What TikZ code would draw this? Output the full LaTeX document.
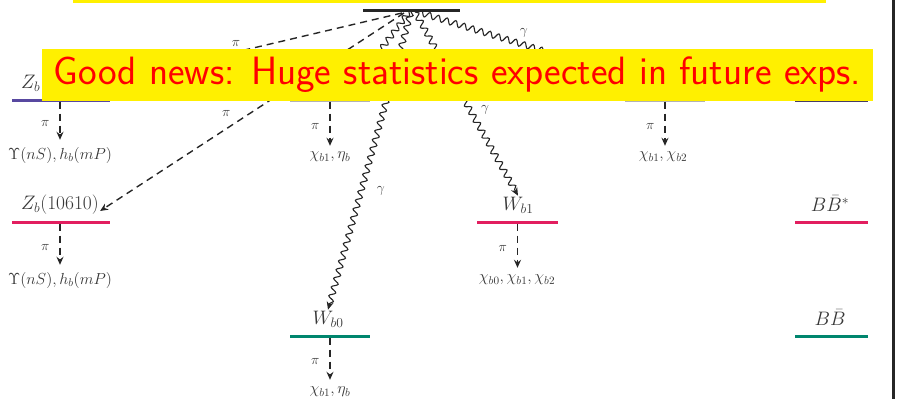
\documentclass[tikz,border=0pt]{standalone}
\usepackage{fix-cm}
\usetikzlibrary{decorations.pathmorphing,arrows.meta}
\definecolor{lvpurple}{RGB}{88,72,160}
\definecolor{lvred}{RGB}{226,30,95}
\definecolor{lvteal}{RGB}{0,134,110}
\definecolor{lvdark}{RGB}{70,60,100}
\definecolor{boxyellow}{RGB}{255,240,0}
\definecolor{txtgrey}{RGB}{55,55,55}
\definecolor{boxred}{RGB}{255,0,0}
\begin{document}
\begin{tikzpicture}[x=1pt,y=-1pt,
  lvl/.style={minimum height=3pt, inner sep=0pt, outer sep=0pt, draw=none},
  lab/.style={text=txtgrey, font=\fontsize{19.5}{20}\selectfont, inner sep=1pt},
  prod/.style={text=txtgrey, font=\fontsize{16}{17}\selectfont, inner sep=1pt},
  sm/.style={text=txtgrey, font=\fontsize{14}{15}\selectfont, inner sep=1pt},
  decayarr/.style={dash pattern=on 7pt off 5pt, line width=1.4pt, draw=black!85, -{Stealth[length=8pt,width=7pt]}},
  photon/.style={draw=black!85, line width=1.1pt, decorate,
     decoration={snake, amplitude=3pt, segment length=9pt, post length=6pt},
     -{Stealth[length=8pt,width=7pt]}},
  ]
\useasboundingbox (0,0) rectangle (899,399);

% top strip of yellow box
\fill[boxyellow] (73,0) rectangle (826,3);

% top level
\node[lvl, fill=black!85, minimum width=97pt] (top) at (411.5,10) {};
\coordinate (eA) at (402,13);
\coordinate (eB) at (404,13);
\coordinate (eC) at (409,12);
\coordinate (eD) at (411,12);
\coordinate (eE) at (415,12);
\coordinate (eF) at (418,12);

% row 1 levels
\node[lvl, fill=lvpurple, minimum width=98pt] (zbB) at (61,100) {};
\node[lab] (zbBlab) at (60,84) {$Z_b(10650)$};
\node[lvl, fill=black!30, minimum width=80pt] (midA) at (330,100) {};
\node[lvl, fill=black!30, minimum width=80pt] (rgtA) at (665,100) {};
\node[lvl, fill=lvdark, minimum width=73pt] (bsbs) at (831.5,100) {};
\coordinate (midAtop) at (352,88);
\coordinate (rgtAtop) at (664,88);

% row 2 levels
\node[lvl, fill=lvred, minimum width=98pt] (zbA) at (61,222) {};
\node[lab] (zbAlab) at (60,205) {$Z_b(10610)$};
\node[lvl, fill=lvred, minimum width=81pt] (wbone) at (517.5,222) {};
\node[lab] (wbonelab) at (518,205) {$W_{b1}$};
\node[lvl, fill=lvred, minimum width=73pt] (bbs) at (831.5,222) {};
\node[lab] (bbslab) at (830,204) {$B\bar{B}^{*}$};

% row 3 levels
\node[lvl, fill=lvteal, minimum width=80pt] (wbzero) at (330,336) {};
\node[lab] (wbzerolab) at (328,319) {$W_{b0}$};
\node[lvl, fill=lvteal, minimum width=73pt] (bb) at (831.5,336) {};
\node[lab] (bblab) at (830,318) {$B\bar{B}$};

% products
\node[prod] (pA) at (60,155) {$\Upsilon(nS), h_b(mP)$};
\node[prod] (pB) at (330,157) {$\chi_{b1}, \eta_b$};
\node[prod] (pC) at (663,157) {$\chi_{b1}, \chi_{b2}$};
\node[prod] (pD) at (60,280) {$\Upsilon(nS), h_b(mP)$};
\node[prod] (pE) at (517,280) {$\chi_{b0}, \chi_{b1}, \chi_{b2}$};
\node[prod] (pF) at (330,392) {$\chi_{b1}, \eta_b$};

% decays
\draw[decayarr, shorten >=6pt] ([xshift=-1pt]zbB.south) -- node[sm, left=9pt] {$\pi$} ([xshift=-1pt]zbB.south |- pA.north);
\draw[decayarr, shorten >=5pt] (midA.south) -- node[sm, left=9pt] {$\pi$} (pB.north -| midA.south);
\draw[decayarr, shorten >=5pt] (rgtA.south) -- node[sm, left=9pt] {$\pi$} (pC.north -| rgtA.south);
\draw[decayarr, shorten >=6pt] ([xshift=-1pt]zbA.south) -- node[sm, left=9pt] {$\pi$} ([xshift=-1pt]zbA.south |- pD.north);
\draw[decayarr, shorten >=6pt] (wbone.south) -- node[sm, left=9pt] {$\pi$} (wbone.south |- pE.north);
\draw[decayarr, shorten >=6pt] (wbzero.south) -- node[sm, left=9pt] {$\pi$} (wbzero.south |- pF.north);

% transitions from the top level
\draw[decayarr] (eA) -- node[sm, pos=0.55, above=4pt] {$\pi$} (zbBlab.east);
\draw[decayarr] (eB) -- node[sm, pos=0.51, left=17pt] {$\pi$} ([yshift=-6pt]zbAlab.east);
\draw[photon] (eC) -- (midAtop);
\draw[photon] (eD) -- node[sm, pos=0.6, right=14pt] {$\gamma$} (wbzerolab.north);
\draw[photon] (eE) -- node[sm, pos=0.53, right=10pt] {$\gamma$} (wbonelab.north);
\draw[photon] (eF) -- node[sm, pos=0.43, above=6pt] {$\gamma$} (rgtAtop);

% right border
\draw[line width=3pt, draw=black!85] (893,0) -- (893,399);

% banner
\node[fill=boxyellow, text=boxred, inner sep=0pt, minimum width=831pt, minimum height=52pt,
      font=\sffamily\fontsize{39.5}{42}\selectfont] (banner) at (457.5,75) {Good news: Huge statistics expected in future exps.};
\end{tikzpicture}
\end{document}
